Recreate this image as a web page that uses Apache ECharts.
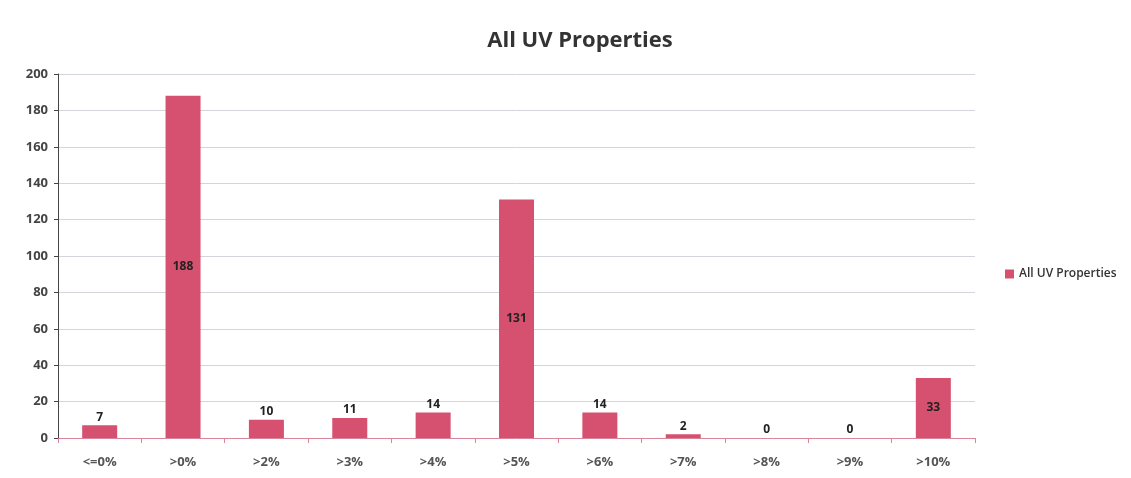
<!DOCTYPE html>
<html>
<head>
<meta charset="utf-8">
<script src="https://cdn.jsdelivr.net/npm/echarts@6/dist/echarts.min.js"></script>
<style>
html, body { margin: 0; padding: 0; background: #fff; }
#chart { width: 1131px; height: 478px; }
</style>
</head>
<body>
<div id="chart"></div>
<script>
var categories = ['<=0%', '>0%', '>2%', '>3%', '>4%', '>5%', '>6%', '>7%', '>8%', '>9%', '>10%'];
var values = [7, 188, 10, 11, 14, 131, 14, 2, 0, 0, 33];
var seriesName = 'All UV Properties';

var myChart = echarts.init(document.getElementById('chart'));

// small bars get the value above, tall ones inside
var barData = values.map(function (v) {
	return {
		value: v,
		label: {
			position: v > 20 ? 'inside' : 'top'
		}
	};
});

var option = {
	backgroundColor: '#fff',
	title: {
		text: seriesName,
		left: 575,
		top: 25,
		textAlign: 'center',
		textStyle: {
			fontFamily: 'Open Sans',
			fontSize: 22,
			fontWeight: 'bold',
			color: '#333'
		}
	},
	legend: {
		data: [seriesName],
		left: 1000,
		top: 263,
		itemWidth: 9,
		itemHeight: 9,
		itemGap: 4,
		icon: 'rect',
		textStyle: {
			fontFamily: 'Open Sans',
			fontSize: 12,
			fontWeight: 600,
			color: '#333'
		}
	},
	grid: {
		left: 58,
		right: 156,
		top: 74,
		bottom: 40,
		containLabel: false
	},
	xAxis: {
		type: 'category',
		data: categories,
		axisLine: { lineStyle: { color: '#d8849a' } },
		axisTick: { show: true, lineStyle: { color: '#d8849a' } },
		axisLabel: {
			fontFamily: 'Open Sans',
			fontSize: 13,
			fontWeight: 'bold',
			color: '#555',
			margin: 18
		}
	},
	yAxis: {
		type: 'value',
		min: 0,
		max: 200,
		interval: 20,
		axisLine: { show: true, lineStyle: { color: '#444' } },
		axisTick: { show: true, length: 4, lineStyle: { color: '#444' } },
		splitLine: { lineStyle: { color: '#d4d4dc' } },
		axisLabel: {
			fontFamily: 'Open Sans',
			fontSize: 13,
			fontWeight: 'bold',
			color: '#444',
			margin: 10
		}
	},
	series: [
		{
			name: seriesName,
			type: 'bar',
			data: barData,
			barWidth: 35,
			itemStyle: { color: '#d6506f' },
			label: {
				show: true,
				color: '#222',
				fontFamily: 'Open Sans',
				fontSize: 12,
				fontWeight: 'bold',
				distance: 2
			}
		}
	]
};
myChart.setOption(option);
</script>
</body>
</html>
